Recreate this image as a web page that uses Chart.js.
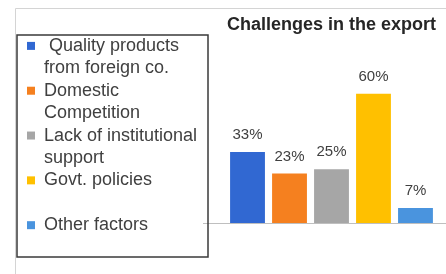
<!DOCTYPE html>
<html>
<head>
<meta charset="utf-8">
<script src="https://cdn.jsdelivr.net/npm/chart.js@4.4.1/dist/chart.umd.min.js"></script>
<style>
  html, body { margin: 0; padding: 0; background: #ffffff; overflow: hidden; width: 446px; height: 274px; }
  #wrap { position: absolute; left: 0; top: 0; width: 460px; height: 274px; }
</style>
</head>
<body>
<div id="wrap"><canvas id="c" width="460" height="274"></canvas></div>
<script>
// ---- data ----
const chartTitle = 'Challenges in the export';
const categories = ['Quality products from foreign co.', 'Domestic Competition', 'Lack of institutional support', 'Govt. policies', 'Other factors'];
const legendLines = [[' Quality products', 'from foreign co.'], ['Domestic', 'Competition'], ['Lack of institutional', 'support'], ['Govt. policies', ''], ['Other factors', '']];
const values = [33, 23, 25, 60, 7];
const valueLabels = ['33%', '23%', '25%', '60%', '7%'];
const colors = ['#3168D2', '#F5801F', '#A6A6A6', '#FFC000', '#4A94DE'];
const yMax = 80;

Chart.defaults.font.family = "'Liberation Sans', Arial, sans-serif";
Chart.defaults.color = '#404040';

const frame = {
  id: 'frame',
  beforeDraw(chart) {
    const ctx = chart.ctx;
    ctx.save();
    ctx.fillStyle = '#ffffff';
    ctx.fillRect(0, 0, chart.width, chart.height);
    ctx.strokeStyle = '#d4d4d4';
    ctx.lineWidth = 1;
    ctx.beginPath();
    ctx.moveTo(15.5, chart.height);
    ctx.lineTo(15.5, 8.5);
    ctx.lineTo(chart.width, 8.5);
    ctx.stroke();
    ctx.restore();
  },
  afterDraw(chart) {
    const ctx = chart.ctx;
    ctx.save();
    ctx.strokeStyle = '#3a3a3a';
    ctx.lineWidth = 1.5;
    ctx.strokeRect(17, 35, 191, 222);
    ctx.restore();
  }
};

const valueLabelPlugin = {
  id: 'valueLabels',
  afterDatasetsDraw(chart) {
    const ctx = chart.ctx;
    ctx.save();
    ctx.font = "15px 'Liberation Sans', Arial, sans-serif";
    ctx.fillStyle = '#404040';
    ctx.textAlign = 'center';
    ctx.textBaseline = 'middle';
    chart.data.datasets.forEach((ds, i) => {
      const meta = chart.getDatasetMeta(i);
      meta.data.forEach((bar) => {
        ctx.fillText(valueLabels[i], bar.x, bar.y - 17);
      });
    });
    ctx.restore();
  }
};

new Chart(document.getElementById('c'), {
  type: 'bar',
  data: {
    labels: [''],
    datasets: categories.map((name, i) => ({
      label: name,
      data: [values[i]],
      backgroundColor: colors[i],
      borderWidth: 0,
      categoryPercentage: 0.817,
      barPercentage: 0.83
    }))
  },
  options: {
    responsive: false,
    animation: false,
    devicePixelRatio: 1,
    layout: { padding: { left: 27, top: 10, right: 0, bottom: 13 } },
    scales: {
      x: {
        display: true,
        grid: { display: false, drawTicks: false },
        ticks: { display: false },
        border: { display: true, color: '#bfbfbf', width: 1 },
        afterFit: (scale) => { scale.height = 38; }
      },
      y: { display: false, min: 0, max: yMax }
    },
    plugins: {
      tooltip: { enabled: false },
      title: {
        display: true,
        text: chartTitle,
        fullSize: false,
        align: 'center',
        color: '#262626',
        font: { size: 18, weight: 'bold' },
        padding: { top: 4, bottom: 15 }
      },
      legend: {
        display: true,
        position: 'left',
        align: 'end',
        maxWidth: 176,
        labels: {
          boxWidth: 8,
          boxHeight: 8,
          padding: 0,
          color: '#404040',
          font: { size: 18, lineHeight: 1.245 },
          generateLabels: (chart) => Chart.defaults.plugins.legend.labels.generateLabels(chart)
            .map((item, i) => Object.assign(item, { text: legendLines[i], lineWidth: 0 }))
        }
      }
    }
  },
  plugins: [frame, valueLabelPlugin]
});
</script>
</body>
</html>
